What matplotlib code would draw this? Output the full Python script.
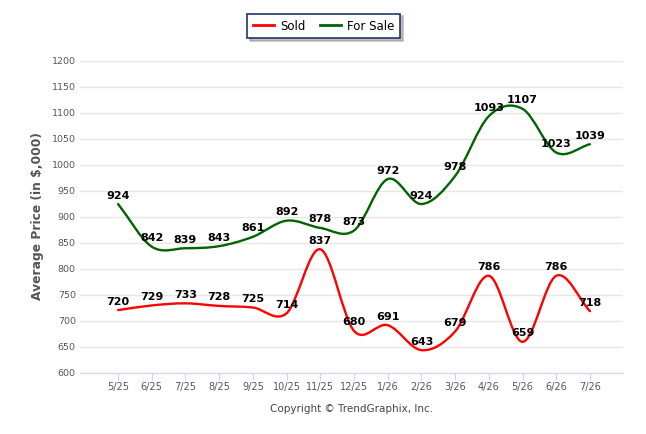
import numpy as np
import matplotlib
matplotlib.use("Agg")
import matplotlib.pyplot as plt
from matplotlib.path import Path
from matplotlib.patches import PathPatch
from matplotlib.lines import Line2D

months = ["5/25", "6/25", "7/25", "8/25", "9/25", "10/25", "11/25", "12/25",
          "1/26", "2/26", "3/26", "4/26", "5/26", "6/26", "7/26"]
sold = [720, 729, 733, 728, 725, 714, 837, 680, 691, 643, 679, 786, 659, 786, 718]
for_sale = [924, 842, 839, 843, 861, 892, 878, 873, 972, 924, 978, 1093, 1107, 1023, 1039]


def spline_path(xs, ys):
    # catmull-rom curve through the points, drawn as cubic beziers
    n = len(xs)
    tang = []
    for i in range(n):
        if i == 0:
            tang.append(ys[1] - ys[0])
        elif i == n - 1:
            tang.append(ys[-1] - ys[-2])
        else:
            tang.append((ys[i + 1] - ys[i - 1]) / 2)
    verts = [(xs[0], ys[0])]
    codes = [Path.MOVETO]
    for i in range(1, n):
        dx = xs[i] - xs[i - 1]
        verts += [(xs[i - 1] + dx / 3, ys[i - 1] + tang[i - 1] / 3),
                  (xs[i] - dx / 3, ys[i] - tang[i] / 3),
                  (xs[i], ys[i])]
        codes += [Path.CURVE4] * 3
    return Path(verts, codes)


fig = plt.figure(figsize=(6.46, 4.34), dpi=100)
ax = fig.add_axes([80 / 646, 1 - 372.5 / 434, 543 / 646, 312 / 434])

x = np.arange(len(months))
series = [("Sold", sold, "#ff0000"), ("For Sale", for_sale, "#006400")]
for name, vals, col in series:
    p = spline_path(list(x), list(vals))
    ax.add_patch(PathPatch(p, facecolor="none", edgecolor=col, lw=1.7,
                           capstyle="round", joinstyle="round", zorder=3))
    for xi, v in zip(x, vals):
        ax.annotate(str(v), (xi, v), xytext=(0, 2.5), textcoords="offset points",
                    ha="center", va="bottom", fontsize=8, fontweight="bold",
                    color="black", zorder=5)

ax.set_xlim(-1.13, 14.98)
ax.set_ylim(600, 1200)
ax.set_yticks(np.arange(600, 1201, 50))
ax.set_xticks(x)
ax.set_xticklabels(months)
ax.grid(axis="y", color="#e6e6e6", lw=1)
ax.set_axisbelow(True)
for s in ["top", "right", "left"]:
    ax.spines[s].set_visible(False)
ax.spines["bottom"].set_color("#ccd6eb")
ax.tick_params(axis="y", length=0, labelsize=6.8, labelcolor="#555555", pad=3)
ax.tick_params(axis="x", length=5, color="#ccd6eb", labelsize=7,
               labelcolor="#555555", pad=2)

fig.text(38 / 646, 1 - 216 / 434, "Average Price (in \\$,000)", rotation=90,
         ha="center", va="center", fontsize=8.8, fontweight="bold", color="#555555")
fig.text(352 / 646, 1 - 409 / 434, "Copyright \u00a9 TrendGraphix, Inc.",
         ha="center", va="center", fontsize=7.5, color="#444444")

handles = [Line2D([], [], color=c, lw=2) for _, _, c in series]
leg = fig.legend(handles, [n for n, _, _ in series], loc="center",
                 bbox_to_anchor=(323.5 / 646, 1 - 26 / 434), ncol=2,
                 fontsize=8.5, frameon=True, fancybox=False,
                 shadow={"color": "#999999", "alpha": 0.6},
                 handlelength=1.8, handletextpad=0.5, columnspacing=1.2,
                 borderpad=0.5)
leg.get_frame().set_edgecolor("#1f3864")
leg.get_frame().set_linewidth(1.2)

fig.savefig("out.png", dpi=100)
